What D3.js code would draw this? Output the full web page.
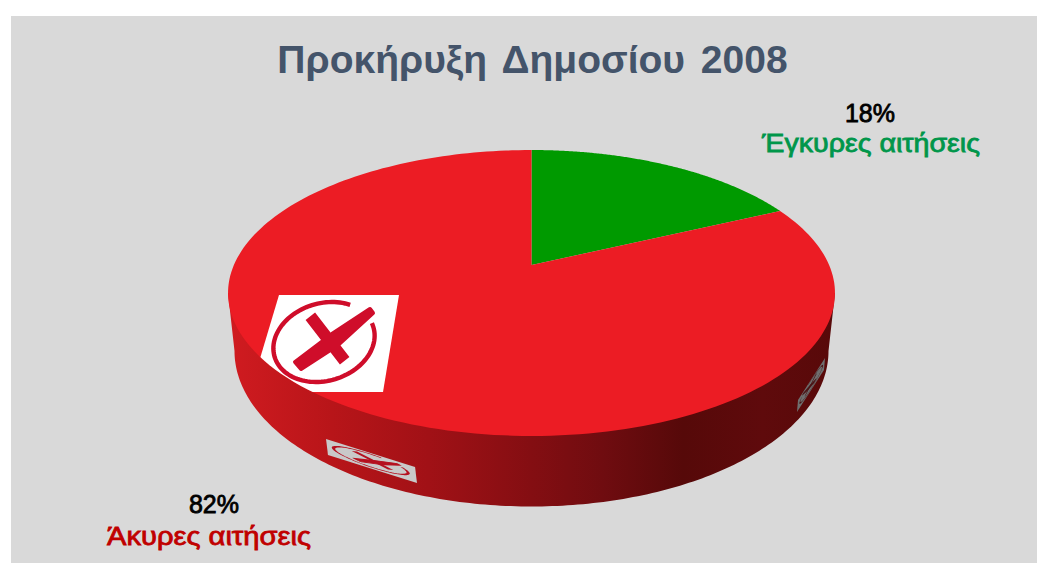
<!DOCTYPE html>
<html><head><meta charset="utf-8">
<script src="https://cdn.jsdelivr.net/npm/d3@7/dist/d3.min.js"></script>
<style>html,body{margin:0;padding:0;background:#fff;overflow:hidden}svg{display:block}text{font-family:"Liberation Sans",Arial,sans-serif}</style>
</head><body><svg id="c" width="1037" height="563"></svg>
<script>
const titleText = "Προκήρυξη Δημοσίου 2008";
const categories = ["Έγκυρες αιτήσεις", "Άκυρες αιτήσεις"];
const values = [18, 82];
const percentLabels = ["18%", "82%"];

const svg = d3.select("#c");
const W = 1037, H = 563;
svg.append("rect").attr("x",11).attr("y",16).attr("width",W-11).attr("height",H-16).attr("fill","#d9d9d9");

// Perspective view of the disc: unit circle -> screen
const cx = 531.5, cy = 265, kx = 297.6, ky = 137.5, persp = -0.1958;
const project = a => {            // a: d3.pie angle, 0 at top, clockwise
  const u = Math.sin(a), v = -Math.cos(a), w = 1 + persp * v;
  return [cx + kx * u / w, cy + ky * v / w];
};
const line = d3.line();
const tau = Math.PI * 2;
const sampled = (a0, a1) => d3.range(0, 201).map(i => project(a0 + (a1 - a0) * i / 200));

const defs = svg.append("defs");
const grad = defs.append("linearGradient").attr("id","side").attr("gradientUnits","userSpaceOnUse")
  .attr("x1",228).attr("x2",835).attr("y1",0).attr("y2",0);
[[0,"#d01b20"],[0.17,"#b81519"],[0.33,"#a11116"],[0.5,"#840e12"],[0.62,"#6f0c10"],[0.75,"#560909"],[0.88,"#5f0a0c"],[1,"#580909"]]
  .forEach(s => grad.append("stop").attr("offset",s[0]).attr("stop-color",s[1]));
defs.append("clipPath").attr("id","topClip").append("path").attr("d", line(sampled(0,tau))+"Z");
defs.append("filter").attr("id","soft").append("feGaussianBlur").attr("stdDeviation",0.45);

// Side wall: lower rim ellipse joined to the widest chord of the top rim
const rim = {cy:351, rx:297, ry:155.5};
const lower = d3.range(0,181).map(i => { const t = Math.PI*i/180;
  return [cx + rim.rx*Math.cos(t), rim.cy + rim.ry*Math.sin(t)]; });
const wall = [[835,293], ...lower, [228,293]];
svg.append("path").attr("d", line(wall)+"Z").attr("fill","url(#side)");

function icon(g, bg, mark, clip, quad) {
  const q = g.append("path").attr("d",quad).attr("fill",bg);
  if (clip) q.attr("clip-path","url(#topClip)");
  const ring = d3.range(0,101).map(i => { const t = (-28 + 320*i/100)*Math.PI/180;
    return [324+50*Math.cos(t)-8*Math.sin(t), 342+40*Math.sin(t)]; });
  g.append("path").attr("d",line(ring)).attr("fill","none").attr("stroke",mark).attr("stroke-width",4.4);
  g.append("path").attr("d","M314,321L341,356").attr("stroke",mark).attr("stroke-width",12).attr("stroke-linecap","square").attr("fill","none");
  g.append("path").attr("d","M301,369L295,362L332,334L370,309L373,313L338,345Z").attr("fill",mark).attr("stroke",mark).attr("stroke-width",4).attr("stroke-linejoin","round");
}
const fullQuad = "M279,295L399,295L383,392L250,392Z", flatQuad = "M279,295L399,295L370,392L250,392Z";
icon(svg.append("g").attr("transform","matrix(.742,.233,.242,.235,47.6,304.7)"), "#c9c9c9", "#b5101f", false, flatQuad);
icon(svg.append("g").attr("transform","matrix(-.225,.35,-.078,.228,910.8,193)"), "#6f6f6f", "#4b1214", false, flatQuad);

// Top surface
const pie = d3.pie().sort(null)(values);
const sliceColors = ["#009a00", "#ec1c24"];
svg.selectAll("path.slice").data(pie).enter().append("path").attr("class","slice")
  .attr("d", d => line([[cx,cy], ...sampled(d.startAngle,d.endAngle)])+"Z")
  .attr("fill",(d,i)=>sliceColors[i]);

icon(svg.append("g").attr("filter","url(#soft)"), "#ffffff", "#cf0a2a", true, fullQuad);

// Texts
svg.append("text").attr("x",532.5).attr("y",73).attr("text-anchor","middle")
  .attr("font-size",39).attr("font-weight","bold").attr("fill","#44546a").attr("word-spacing",5).text(titleText);
const labelPos = [{px:870,cx:871,y1:122,y2:152,w:218,c:"#00964a"},{px:214,cx:209,y1:513,y2:545,w:204,c:"#c00000"}];
labelPos.forEach((p,i)=>{
  svg.append("text").attr("x",p.px).attr("y",p.y1).attr("text-anchor","middle").attr("font-size",25)
    .attr("fill","#000").attr("stroke","#000").attr("stroke-width",0.8).text(percentLabels[i]);
  svg.append("text").attr("x",p.cx).attr("y",p.y2).attr("text-anchor","middle").attr("font-size",25.5)
    .attr("textLength",p.w).attr("lengthAdjust","spacingAndGlyphs")
    .attr("fill",p.c).attr("stroke",p.c).attr("stroke-width",0.8).text(categories[i]);
});
</script></body></html>
